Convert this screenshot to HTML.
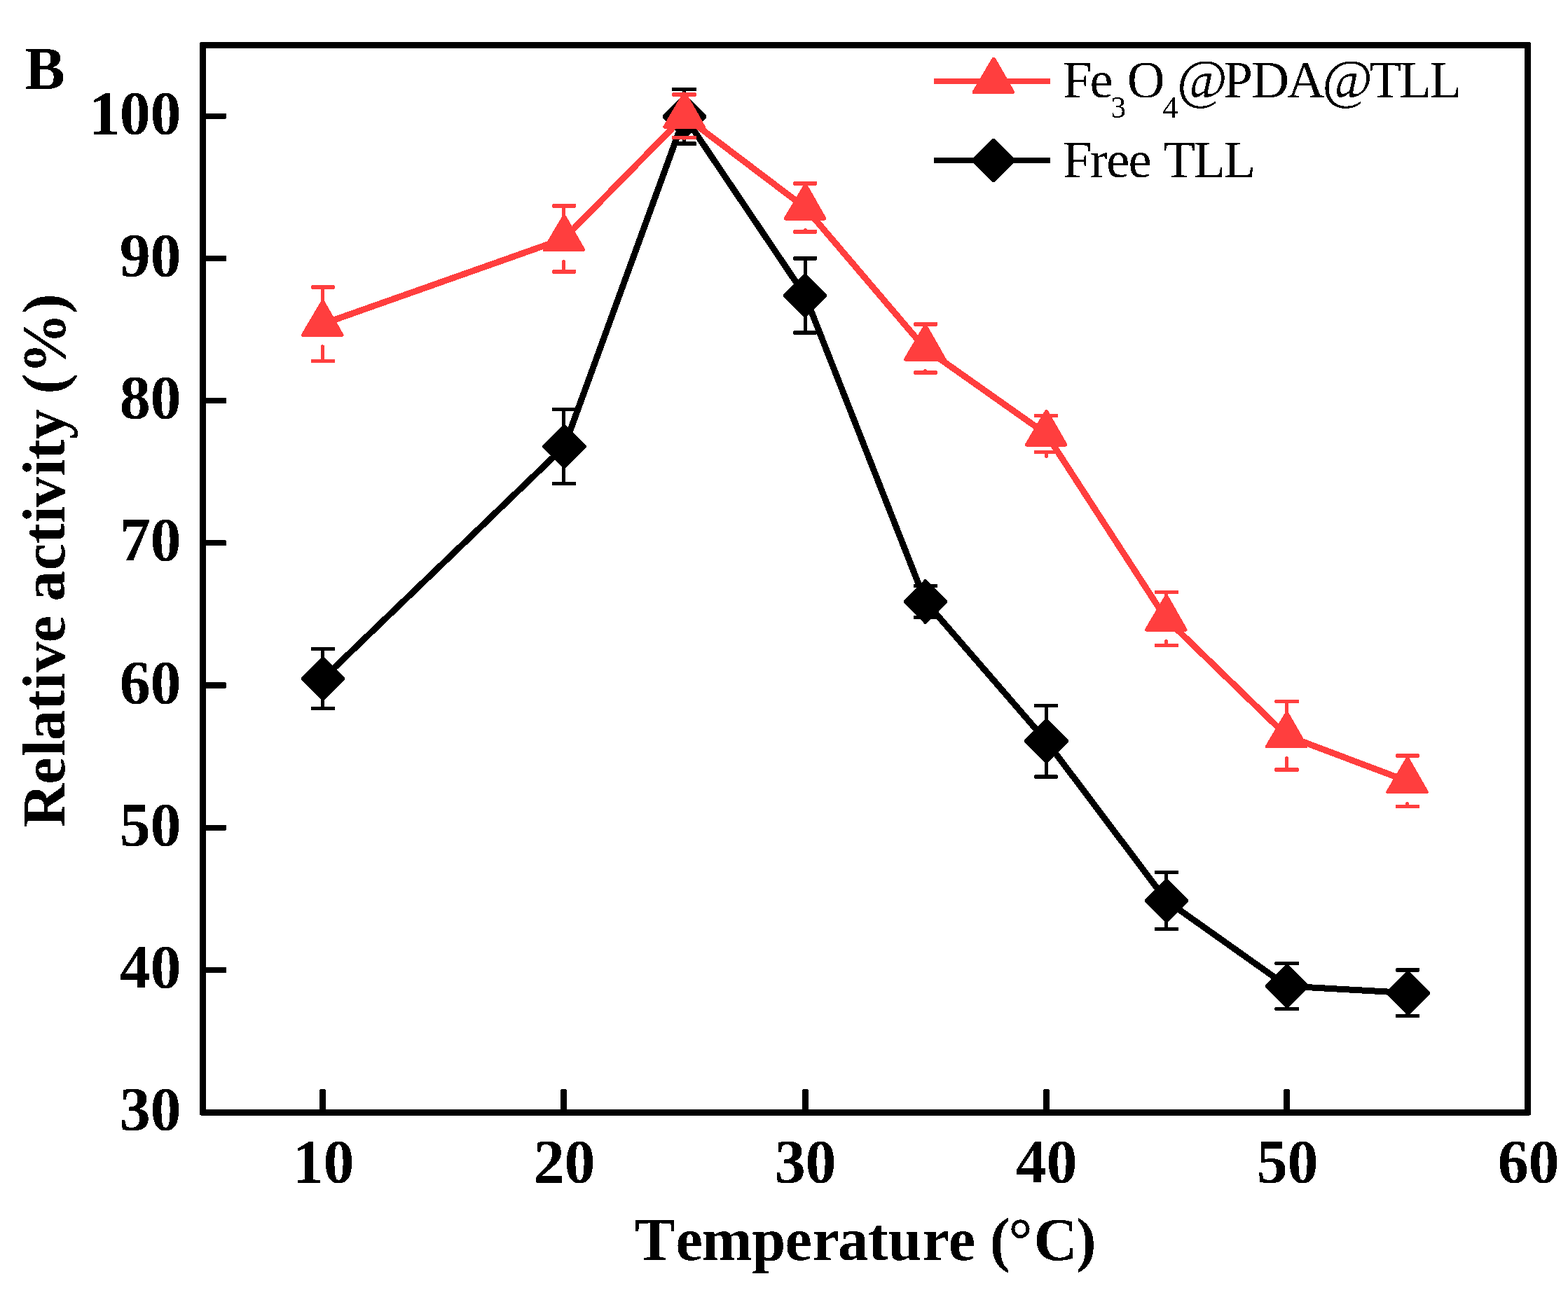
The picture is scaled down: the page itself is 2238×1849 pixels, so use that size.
<!DOCTYPE html>
<html lang="en"><head><meta charset="utf-8">
<title>Effect of temperature on relative activity</title>
<style>
html,body{margin:0;padding:0;background:#fff;}
body{width:2238px;height:1849px;overflow:hidden;}
svg{display:block;}
text{font-family:"Liberation Serif","Times New Roman",Times,serif;fill:#000;}
.b{font-weight:bold;}
.tk{font-weight:bold;font-size:88px;}
.ti{font-weight:bold;font-size:86.4px;}
.yt{font-size:86.7px;}
.lg{font-size:74.5px;}
.at{font-size:78px;}
.sub{font-size:43.5px;}
.ln{fill:none;stroke-width:9;stroke-linejoin:round;stroke-linecap:butt;}
.lgl{stroke-width:7.9;}
.st{fill:none;stroke-width:4.9;stroke-linecap:round;}
.s1 .ln,.s1 .st{stroke:#ff3e3e;}.s1 .cp rect{fill:#ff3e3e;}
.s1 .mk polygon{fill:#ff3e3e;stroke:#ff3e3e;stroke-width:5;stroke-linejoin:round;}
.s2 .ln,.s2 .st{stroke:#000;}.s2 .cp rect,.s2 .mk polygon{fill:#000;}
</style></head><body>
<svg width="2238" height="1849" viewBox="0 0 2238 1849" shape-rendering="crispEdges" role="img" aria-label="Relative activity versus temperature for Fe3O4@PDA@TLL and free TLL">
<defs><filter id="bin" x="-5%" y="-5%" width="110%" height="110%" color-interpolation-filters="sRGB"><feComponentTransfer><feFuncA type="discrete" tableValues="0 1"/></feComponentTransfer></filter></defs>
<rect x="0" y="0" width="2238" height="1849" fill="#fff"/>
<g class="s2">
<polyline class="ln" points="461.05,968.95 805.55,637.5 977.05,166.3 1149.05,421.95 1321,859 1493.55,1058.25 1665,1286 1837,1408 2009.6,1417.7"/>
<path class="st" d="M460.5 939.5V926.4M460.5 998.4V1011.5M804.5 608.05V584.5M804.5 666.95V690.5M976.5 136.85V127.45M976.5 195.75V205.15M1149.5 392.5V368.9M1149.5 451.4V475M1320.5 829.55V836.5M1320.5 888.45V881.5M1493.5 1028.8V1007.5M1493.5 1087.7V1109M1664.5 1256.55V1245.45M1664.5 1315.45V1326.55M1836.5 1378.55V1375.5M1836.5 1437.45V1440.5M2008.5 1388.25V1384.9M2008.5 1447.15V1450.5"/>
<g class="cp"><rect x="444" y="923.7" width="34.1" height="5.4" rx="1.5"/><rect x="444" y="1008.8" width="34.1" height="5.4" rx="1.5"/><rect x="788" y="581.8" width="34.1" height="5.4" rx="1.5"/><rect x="788" y="687.8" width="34.1" height="5.4" rx="1.5"/><rect x="959.1" y="124.75" width="35" height="5.4" rx="1.5"/><rect x="959.1" y="202.45" width="35" height="5.4" rx="1.5"/><rect x="1132" y="366.2" width="34.1" height="5.4" rx="1.5"/><rect x="1132" y="472.3" width="34.1" height="5.4" rx="1.5"/><rect x="1304" y="833.8" width="34.1" height="5.4" rx="1.5"/><rect x="1304" y="878.8" width="34.1" height="5.4" rx="1.5"/><rect x="1476" y="1004.8" width="34.1" height="5.4" rx="1.5"/><rect x="1476" y="1106.3" width="34.1" height="5.4" rx="1.5"/><rect x="1648" y="1242.75" width="34.1" height="5.4" rx="1.5"/><rect x="1648" y="1323.85" width="34.1" height="5.4" rx="1.5"/><rect x="1819.3" y="1372.8" width="34.8" height="5.4" rx="1.5"/><rect x="1819.3" y="1437.8" width="34.8" height="5.4" rx="1.5"/><rect x="1992" y="1382.2" width="34.1" height="5.4" rx="1.5"/><rect x="1992" y="1447.8" width="34.1" height="5.4" rx="1.5"/></g>
<g class="mk">
<polygon points="462.55,937.65 492.35,967.45 492.35,970.45 462.55,1000.25 459.55,1000.25 429.75,970.45 429.75,967.45 459.55,937.65"/>
<polygon points="807.05,606.2 836.85,636 836.85,639 807.05,668.8 804.05,668.8 774.25,639 774.25,636 804.05,606.2"/>
<polygon points="978.55,135 1008.35,164.8 1008.35,167.8 978.55,197.6 975.55,197.6 945.75,167.8 945.75,164.8 975.55,135"/>
<polygon points="1150.55,390.65 1180.35,420.45 1180.35,423.45 1150.55,453.25 1147.55,453.25 1117.75,423.45 1117.75,420.45 1147.55,390.65"/>
<polygon points="1322.5,827.7 1352.3,857.5 1352.3,860.5 1322.5,890.3 1319.5,890.3 1289.7,860.5 1289.7,857.5 1319.5,827.7"/>
<polygon points="1495.05,1026.95 1524.85,1056.75 1524.85,1059.75 1495.05,1089.55 1492.05,1089.55 1462.25,1059.75 1462.25,1056.75 1492.05,1026.95"/>
<polygon points="1666.5,1254.7 1696.3,1284.5 1696.3,1287.5 1666.5,1317.3 1663.5,1317.3 1633.7,1287.5 1633.7,1284.5 1663.5,1254.7"/>
<polygon points="1838.5,1376.7 1868.3,1406.5 1868.3,1409.5 1838.5,1439.3 1835.5,1439.3 1805.7,1409.5 1805.7,1406.5 1835.5,1376.7"/>
<polygon points="2011.1,1386.4 2040.9,1416.2 2040.9,1419.2 2011.1,1449 2008.1,1449 1978.3,1419.2 1978.3,1416.2 2008.1,1386.4"/>
</g>
</g>
<g class="s1">
<polyline class="ln" points="460.2,462.7 804.8,340.9 976.6,165.7 1149.1,296.4 1320.3,497.45 1493.1,619.5 1664.3,883.5 1836.2,1050.25 2008.5,1115.25"/>
<path class="st" d="M460.5 430.65V410M460.5 494.75V515.4M804.5 308.85V293.9M804.5 372.95V387.9M976.5 133.65V135M976.5 197.75V196.4M1149.5 264.35V261.9M1149.5 328.45V330.9M1320.5 465.4V462.9M1320.5 529.5V532M1493.5 587.45V593.5M1493.5 651.55V645.5M1664.5 851.45V845.5M1664.5 915.55V921.5M1836.5 1018.2V1001.5M1836.5 1082.3V1099M2008.5 1083.2V1079M2008.5 1147.3V1151.5"/>
<g class="cp"><rect x="444" y="407.3" width="34.1" height="5.4" rx="1.5"/><rect x="444" y="512.7" width="34.1" height="5.4" rx="1.5"/><rect x="788" y="291.2" width="34.1" height="5.4" rx="1.5"/><rect x="788" y="385.2" width="34.1" height="5.4" rx="1.5"/><rect x="959.1" y="132.3" width="35" height="5.4" rx="1.5"/><rect x="959.1" y="193.7" width="35" height="5.4" rx="1.5"/><rect x="1132" y="259.2" width="34.1" height="5.4" rx="1.5"/><rect x="1132" y="328.2" width="34.1" height="5.4" rx="1.5"/><rect x="1304" y="460.2" width="34.1" height="5.4" rx="1.5"/><rect x="1304" y="529.3" width="34.1" height="5.4" rx="1.5"/><rect x="1476" y="590.8" width="34.1" height="5.4" rx="1.5"/><rect x="1476" y="642.8" width="34.1" height="5.4" rx="1.5"/><rect x="1648" y="842.8" width="34.1" height="5.4" rx="1.5"/><rect x="1648" y="918.8" width="34.1" height="5.4" rx="1.5"/><rect x="1819.3" y="998.8" width="34.8" height="5.4" rx="1.5"/><rect x="1819.3" y="1096.3" width="34.8" height="5.4" rx="1.5"/><rect x="1992" y="1076.3" width="34.1" height="5.4" rx="1.5"/><rect x="1992" y="1148.8" width="34.1" height="5.4" rx="1.5"/></g>
<g class="mk">
<polygon points="460.2,431.3 461.2,431.3 487.95,478.3 432.45,478.3"/>
<polygon points="804.8,309.5 805.8,309.5 832.55,356.5 777.05,356.5"/>
<polygon points="976.6,134.3 977.6,134.3 1004.35,181.3 948.85,181.3"/>
<polygon points="1149.1,265 1150.1,265 1176.85,312 1121.35,312"/>
<polygon points="1320.3,466.05 1321.3,466.05 1348.05,513.05 1292.55,513.05"/>
<polygon points="1493.1,588.1 1494.1,588.1 1520.85,635.1 1465.35,635.1"/>
<polygon points="1664.3,852.1 1665.3,852.1 1692.05,899.1 1636.55,899.1"/>
<polygon points="1836.2,1018.85 1837.2,1018.85 1863.95,1065.85 1808.45,1065.85"/>
<polygon points="2008.5,1083.85 2009.5,1083.85 2036.25,1130.85 1980.75,1130.85"/>
</g>
</g>
<path d="M287.4 59.9H2182.58Q2184.98 59.9 2184.98 62.3V1590.4Q2184.98 1592.8 2182.58 1592.8H287.4Q285 1592.8 285 1590.4V62.3Q285 59.9 287.4 59.9ZM293.94 68.8V1584H2176.08V68.8Z" fill="#000" fill-rule="evenodd"/>
<g fill="#000">
<rect x="289.5" y="1380.81" width="33.57" height="8.1" rx="1.5"/>
<rect x="289.5" y="1177.63" width="33.57" height="8.1" rx="1.5"/>
<rect x="289.5" y="974.44" width="33.57" height="8.1" rx="1.5"/>
<rect x="289.5" y="771.25" width="33.57" height="8.1" rx="1.5"/>
<rect x="289.5" y="568.07" width="33.57" height="8.1" rx="1.5"/>
<rect x="289.5" y="364.88" width="33.57" height="8.1" rx="1.5"/>
<rect x="289.5" y="161.69" width="33.57" height="8.1" rx="1.5"/>
<rect x="456" y="1554.85" width="9" height="33.5" rx="3"/>
<rect x="800" y="1554.85" width="9" height="33.5" rx="3"/>
<rect x="1145" y="1554.85" width="9" height="33.5" rx="3"/>
<rect x="1489" y="1554.85" width="9" height="33.5" rx="3"/>
<rect x="1832" y="1554.85" width="9" height="33.5" rx="3"/>
</g>
<g filter="url(#bin)">
<g class="tk">
<text x="170.85 214.45" y="1613.2">30</text>
<text x="170.85 214.45" y="1410.01">40</text>
<text x="170.85 214.45" y="1206.83">50</text>
<text x="170.85 214.45" y="1003.64">60</text>
<text x="170.85 214.45" y="800.45">70</text>
<text x="170.85 214.45" y="597.27">80</text>
<text x="170.85 214.45" y="394.08">90</text>
<text x="127.25 170.85 214.45" y="190.89">100</text>
</g>
<g class="tk">
<text x="417.85 461.45" y="1688.15">10</text>
<text x="761.85 805.45" y="1688.15">20</text>
<text x="1105.85 1149.45" y="1688.15">30</text>
<text x="1449.85 1493.45" y="1688.15">40</text>
<text x="1793.85 1837.45" y="1688.15">50</text>
<text x="2137.85 2181.45" y="1688.15">60</text>
</g>
<text class="ti" x="906.1 964.5 1001.5 1073.2 1120.5 1159.6 1195.9 1239.1 1267.6 1316.7 1353.7 1392 1412.7 1439.2 1475.5 1535.7" y="1798.6">Temperature (°C)</text>
<text class="ti yt" transform="translate(91.9 1180) rotate(-90)" x="-1.2 60.3 100.1 122.7 166.1 195.5 220.3 262.4 300.9 321.5 365.6 404 433.6 456 500.6 523.9 552.7 596.1 617.4 646.3 731.8" y="0">Relative activity (%)</text>
<text class="b" style="font-size:86.5px" x="35.3" y="126.7">B</text>
</g>
<g class="s1"><path class="ln lgl" d="M1333 116.05H1499"/><g class="mk"><polygon points="1417.9,84.5 1418.9,84.5 1445.65,131.5 1390.15,131.5"/></g></g>
<g class="s2"><path class="ln lgl" d="M1333 228.9H1499"/><g class="mk"><polygon points="1419.5,197.8 1449.3,227.6 1449.3,230.6 1419.5,260.4 1416.5,260.4 1386.7,230.6 1386.7,227.6 1416.5,197.8"/></g></g>
<g filter="url(#bin)">
<text class="lg" y="139.2" x="1516.9 1555.4">Fe<tspan class="sub" x="1585.5" dy="28.7">3</tspan><tspan x="1608.7" dy="-28.7">O</tspan><tspan class="sub" x="1659.6" dy="28.7">4</tspan><tspan class="at" x="1680.1" dy="-28.7">@</tspan><tspan x="1746.4 1786.2 1837.1">PDA</tspan><tspan class="at" x="1887.2">@</tspan><tspan x="1954.4 1997.3 2040.4">TLL</tspan></text>
<text class="lg" y="252.8" x="1516.9 1555.7 1579.2 1610.4 1641 1660.2 1703.5 1746.7">Free TLL</text>
</g>
</svg>
</body></html>
